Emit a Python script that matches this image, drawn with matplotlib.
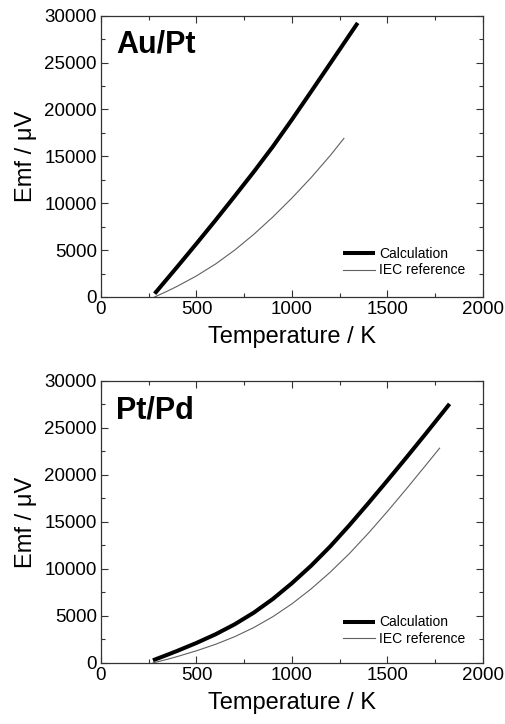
import matplotlib
matplotlib.use("Agg")
import matplotlib.pyplot as plt
from matplotlib.ticker import MultipleLocator

plt.rcParams['font.family'] = ['Liberation Sans', 'DejaVu Sans']

# Au/Pt panel
aupt_calc_T = [281, 400, 500, 600, 700, 800, 900, 1000, 1100, 1200, 1300, 1344]
aupt_calc_E = [355, 3235, 5695, 8195, 10755, 13350, 16050, 18930, 21900, 24900, 27910, 29230]
aupt_iec_T = [281, 350, 400, 500, 600, 700, 800, 900, 1000, 1100, 1200, 1272]
aupt_iec_E = [0, 650, 1150, 2250, 3520, 5000, 6680, 8540, 10560, 12730, 15080, 16920]

# Pt/Pd panel
ptpd_calc_T = [272, 350, 400, 500, 600, 700, 800, 900, 1000, 1100, 1200, 1300, 1400, 1500, 1600, 1700, 1800, 1825]
ptpd_calc_E = [284, 892, 1292, 2132, 3052, 4112, 5352, 6812, 8492, 10342, 12392, 14642, 17002, 19422, 21882, 24382, 26922, 27562]
ptpd_iec_T = [272, 350, 400, 500, 600, 700, 800, 900, 1000, 1100, 1200, 1300, 1400, 1500, 1600, 1700, 1773]
ptpd_iec_E = [0, 406, 686, 1296, 1986, 2796, 3766, 4926, 6296, 7876, 9656, 11626, 13806, 16126, 18546, 21026, 22851]

panel_labels = ["Au/Pt", "Pt/Pd"]
legend_labels = ["Calculation", "IEC reference"]
xlabel = "Temperature / K"
ylabel = "Emf / \u03bcV"

fig = plt.figure(figsize=(5.06, 7.24), dpi=100)
ax1 = fig.add_axes([0.1996, 0.5898, 0.7549, 0.3885])
ax2 = fig.add_axes([0.1996, 0.0843, 0.7549, 0.3895])

datasets = [
    (ax1, aupt_calc_T, aupt_calc_E, aupt_iec_T, aupt_iec_E, panel_labels[0], 0.04),
    (ax2, ptpd_calc_T, ptpd_calc_E, ptpd_iec_T, ptpd_iec_E, panel_labels[1], 0.03),
]

for ax, cT, cE, iT, iE, lab, leg_y in datasets:
    ax.plot(cT, cE, color='black', lw=2.9, label=legend_labels[0], solid_capstyle='butt',
            solid_joinstyle='round')
    ax.plot(iT, iE, color='#606060', lw=0.8, label=legend_labels[1])
    ax.set_xlim(0, 2000)
    ax.set_ylim(0, 30000)
    ax.xaxis.set_major_locator(MultipleLocator(500))
    ax.xaxis.set_minor_locator(MultipleLocator(250))
    ax.yaxis.set_major_locator(MultipleLocator(5000))
    ax.yaxis.set_minor_locator(MultipleLocator(2500))
    ax.tick_params(which='both', direction='in', top=True, right=True, colors='#333333',
                   labelcolor='black', labelsize=13.5, width=0.8)
    ax.tick_params(which='major', length=5, pad=3)
    ax.tick_params(which='minor', length=3)
    for s in ax.spines.values():
        s.set_color('#333333')
        s.set_linewidth(0.9)
    ax.set_xlabel(xlabel, fontsize=17, labelpad=6)
    ax.set_ylabel(ylabel, fontsize=17, labelpad=5)
    ax.text(0.04, 0.95, lab, transform=ax.transAxes, fontsize=22, fontweight='bold',
            va='top', ha='left')
    ax.legend(loc='lower right', bbox_to_anchor=(0.975, leg_y), frameon=False, fontsize=10,
              handlelength=2.3, handletextpad=0.3, labelspacing=0.2, borderaxespad=0.2)

fig.savefig("out.png", dpi=100)
